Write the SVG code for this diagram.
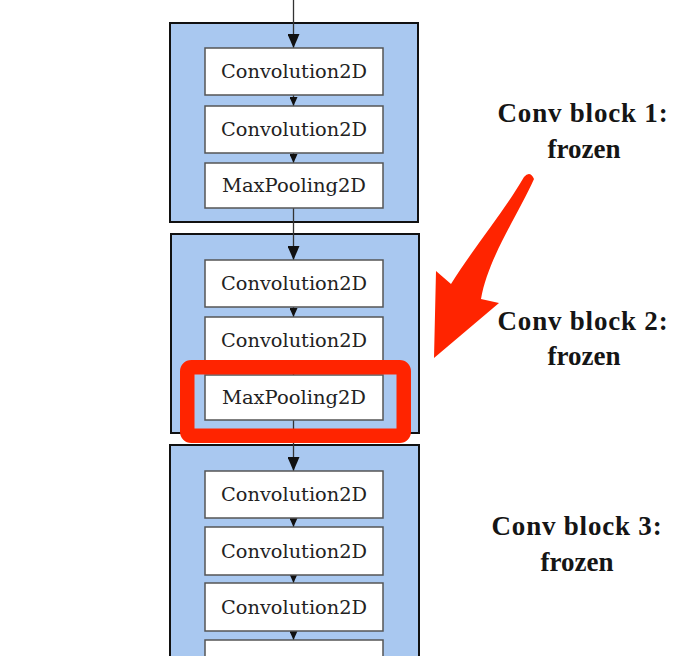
<svg xmlns="http://www.w3.org/2000/svg" width="696" height="656" viewBox="0 0 696 656">
<defs>
<style>
.block{fill:#a9c8f0;stroke:#111;stroke-width:2}
.box{fill:#fff;stroke:#555;stroke-width:1.5}
.lbl{font-family:"DejaVu Serif","Liberation Serif",serif;font-size:18px;fill:#222;text-anchor:middle}
.side{font-family:"Liberation Serif","Times New Roman",serif;font-size:27px;font-weight:bold;fill:#151515;text-anchor:middle}
.conn{stroke:#333;stroke-width:1.3;fill:none}
</style>
<marker id="big" markerUnits="userSpaceOnUse" markerWidth="12" markerHeight="15" refX="6" refY="14" viewBox="0 0 12 15">
<path d="M0,0 L12,0 L6,14 Z" fill="#111"/>
</marker>
<marker id="small" markerUnits="userSpaceOnUse" markerWidth="8" markerHeight="9" refX="4" refY="9" viewBox="0 0 8 9">
<path d="M0,0 L8,0 L4,9 Z" fill="#111"/>
</marker>
</defs>
<rect width="696" height="656" fill="#fff"/>

<g id="block1">
<rect class="block" x="170" y="23" width="248" height="199"/>
</g>
<g id="block2">
<rect class="block" x="171" y="234" width="248" height="199"/>
</g>
<g id="block3">
<rect class="block" x="170" y="445" width="249" height="220"/>
</g>

<g id="connectors">
<line class="conn" x1="293.5" y1="0" x2="293.5" y2="48" marker-end="url(#big)"/>
<line class="conn" x1="293.5" y1="95" x2="293.5" y2="106" marker-end="url(#small)"/>
<line class="conn" x1="293.5" y1="153" x2="293.5" y2="163" marker-end="url(#small)"/>
<line class="conn" x1="293.5" y1="208" x2="293.5" y2="260" marker-end="url(#big)"/>
<line class="conn" x1="293.5" y1="307" x2="293.5" y2="317" marker-end="url(#small)"/>
<line class="conn" x1="293.5" y1="364" x2="293.5" y2="375" marker-end="url(#small)"/>
<line class="conn" x1="293.5" y1="420" x2="293.5" y2="471" marker-end="url(#big)"/>
<line class="conn" x1="293.5" y1="518" x2="293.5" y2="527" marker-end="url(#small)"/>
<line class="conn" x1="293.5" y1="575" x2="293.5" y2="583" marker-end="url(#small)"/>
<line class="conn" x1="293.5" y1="631" x2="293.5" y2="640" marker-end="url(#small)"/>
</g>

<g id="b1-conv1"><rect class="box" x="205" y="48" width="178" height="47"/><text class="lbl" x="294" y="78" textLength="146" lengthAdjust="spacingAndGlyphs">Convolution2D</text></g>
<g id="b1-conv2"><rect class="box" x="205" y="106" width="178" height="47"/><text class="lbl" x="294" y="136" textLength="146" lengthAdjust="spacingAndGlyphs">Convolution2D</text></g>
<g id="b1-pool"><rect class="box" x="205" y="163" width="178" height="45"/><text class="lbl" x="294" y="192" textLength="144" lengthAdjust="spacingAndGlyphs">MaxPooling2D</text></g>

<g id="b2-conv1"><rect class="box" x="205" y="260" width="178" height="47"/><text class="lbl" x="294" y="290" textLength="146" lengthAdjust="spacingAndGlyphs">Convolution2D</text></g>
<g id="b2-conv2"><rect class="box" x="205" y="317" width="178" height="47"/><text class="lbl" x="294" y="347" textLength="146" lengthAdjust="spacingAndGlyphs">Convolution2D</text></g>
<g id="b2-pool"><rect class="box" x="205" y="375" width="178" height="45"/><text class="lbl" x="294" y="404" textLength="144" lengthAdjust="spacingAndGlyphs">MaxPooling2D</text></g>

<g id="b3-conv1"><rect class="box" x="205" y="471" width="178" height="47"/><text class="lbl" x="294" y="501" textLength="146" lengthAdjust="spacingAndGlyphs">Convolution2D</text></g>
<g id="b3-conv2"><rect class="box" x="205" y="527" width="178" height="48"/><text class="lbl" x="294" y="558" textLength="146" lengthAdjust="spacingAndGlyphs">Convolution2D</text></g>
<g id="b3-conv3"><rect class="box" x="205" y="583" width="178" height="48"/><text class="lbl" x="294" y="614" textLength="146" lengthAdjust="spacingAndGlyphs">Convolution2D</text></g>
<g id="b3-box4"><rect class="box" x="205" y="640" width="178" height="30"/></g>

<g id="highlight">
<rect x="187.25" y="367.25" width="216.5" height="68.5" rx="4" fill="none" stroke="#ff2400" stroke-width="14.5"/>
</g>

<g id="pointer">
<path d="M524,177 Q530,170 534,179 C518,215 488,258 481,299 L499,303 L434,358 L436,271 L451,284 C472,250 505,210 524,177 Z" fill="#ff2400"/>
</g>

<g id="labels">
<text class="side" x="583" y="122" letter-spacing="0.8">Conv block 1:</text>
<text class="side" x="584" y="158">frozen</text>
<text class="side" x="583" y="330" letter-spacing="0.8">Conv block 2:</text>
<text class="side" x="584" y="365">frozen</text>
<text class="side" x="577" y="535" letter-spacing="0.8">Conv block 3:</text>
<text class="side" x="577" y="571">frozen</text>
</g>
</svg>
